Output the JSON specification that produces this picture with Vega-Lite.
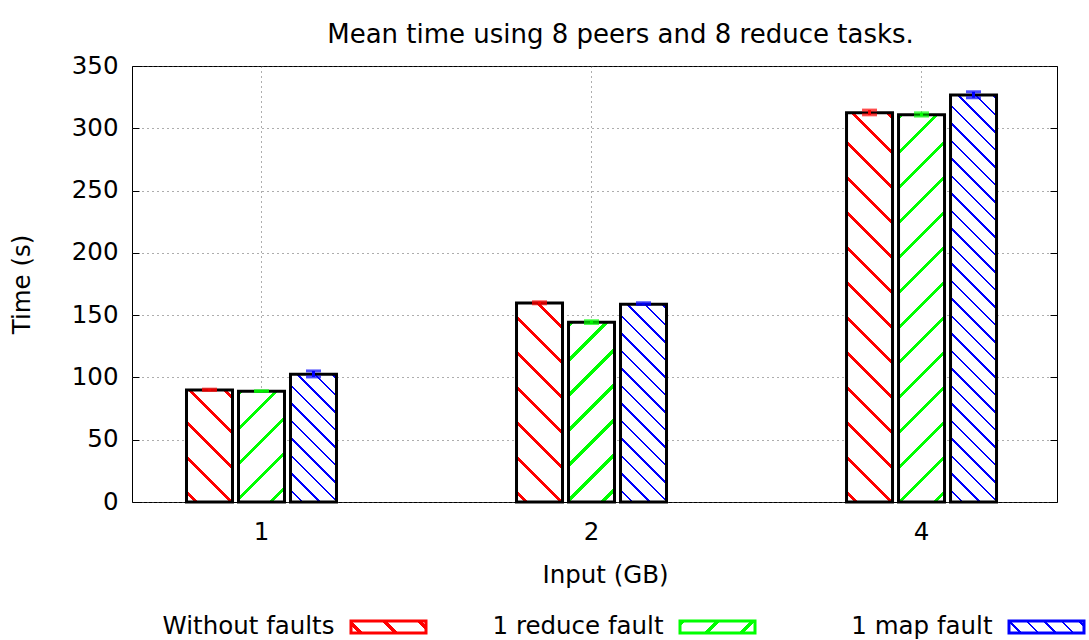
{
"$schema": "https://vega.github.io/schema/vega-lite/v6.json",
"width": 925,
"height": 436,
"autosize": {"type": "none"},
"padding": {"left": 132, "top": 66, "right": 32, "bottom": 138},
"background": "white",
"title": {"text": "Mean time using 8 peers and 8 reduce tasks.", "font": "DejaVu Sans", "fontSize": 26, "fontWeight": "normal", "color": "black", "anchor": "middle", "dx": 26, "offset": 5},
"params": [
 {"name": "redStops", "expr": "[{offset:0.0155,color:'white'},{offset:0.0155,color:'red'},{offset:0.0245,color:'red'},{offset:0.0245,color:'white'},{offset:0.0855,color:'white'},{offset:0.0855,color:'red'},{offset:0.0945,color:'red'},{offset:0.0945,color:'white'},{offset:0.1555,color:'white'},{offset:0.1555,color:'red'},{offset:0.1645,color:'red'},{offset:0.1645,color:'white'},{offset:0.2255,color:'white'},{offset:0.2255,color:'red'},{offset:0.2345,color:'red'},{offset:0.2345,color:'white'},{offset:0.2955,color:'white'},{offset:0.2955,color:'red'},{offset:0.3045,color:'red'},{offset:0.3045,color:'white'},{offset:0.3655,color:'white'},{offset:0.3655,color:'red'},{offset:0.3745,color:'red'},{offset:0.3745,color:'white'},{offset:0.4355,color:'white'},{offset:0.4355,color:'red'},{offset:0.4445,color:'red'},{offset:0.4445,color:'white'},{offset:0.5055,color:'white'},{offset:0.5055,color:'red'},{offset:0.5145,color:'red'},{offset:0.5145,color:'white'},{offset:0.5755,color:'white'},{offset:0.5755,color:'red'},{offset:0.5845,color:'red'},{offset:0.5845,color:'white'},{offset:0.6455,color:'white'},{offset:0.6455,color:'red'},{offset:0.6545,color:'red'},{offset:0.6545,color:'white'},{offset:0.7155,color:'white'},{offset:0.7155,color:'red'},{offset:0.7245,color:'red'},{offset:0.7245,color:'white'},{offset:0.7855,color:'white'},{offset:0.7855,color:'red'},{offset:0.7945,color:'red'},{offset:0.7945,color:'white'},{offset:0.8555,color:'white'},{offset:0.8555,color:'red'},{offset:0.8645,color:'red'},{offset:0.8645,color:'white'}]"},
 {"name": "greenStops", "expr": "[{offset:0.0015,color:'white'},{offset:0.0015,color:'lime'},{offset:0.0105,color:'lime'},{offset:0.0105,color:'white'},{offset:0.0715,color:'white'},{offset:0.0715,color:'lime'},{offset:0.0805,color:'lime'},{offset:0.0805,color:'white'},{offset:0.1415,color:'white'},{offset:0.1415,color:'lime'},{offset:0.1505,color:'lime'},{offset:0.1505,color:'white'},{offset:0.2115,color:'white'},{offset:0.2115,color:'lime'},{offset:0.2205,color:'lime'},{offset:0.2205,color:'white'},{offset:0.2815,color:'white'},{offset:0.2815,color:'lime'},{offset:0.2905,color:'lime'},{offset:0.2905,color:'white'},{offset:0.3515,color:'white'},{offset:0.3515,color:'lime'},{offset:0.3605,color:'lime'},{offset:0.3605,color:'white'},{offset:0.4215,color:'white'},{offset:0.4215,color:'lime'},{offset:0.4305,color:'lime'},{offset:0.4305,color:'white'},{offset:0.4915,color:'white'},{offset:0.4915,color:'lime'},{offset:0.5005,color:'lime'},{offset:0.5005,color:'white'},{offset:0.5615,color:'white'},{offset:0.5615,color:'lime'},{offset:0.5705,color:'lime'},{offset:0.5705,color:'white'},{offset:0.6315,color:'white'},{offset:0.6315,color:'lime'},{offset:0.6405,color:'lime'},{offset:0.6405,color:'white'},{offset:0.7015,color:'white'},{offset:0.7015,color:'lime'},{offset:0.7105,color:'lime'},{offset:0.7105,color:'white'},{offset:0.7715,color:'white'},{offset:0.7715,color:'lime'},{offset:0.7805,color:'lime'},{offset:0.7805,color:'white'},{offset:0.8415,color:'white'},{offset:0.8415,color:'lime'},{offset:0.8505,color:'lime'},{offset:0.8505,color:'white'}]"},
 {"name": "blueStops", "expr": "[{offset:0.0216,color:'white'},{offset:0.0216,color:'blue'},{offset:0.0264,color:'blue'},{offset:0.0264,color:'white'},{offset:0.0566,color:'white'},{offset:0.0566,color:'blue'},{offset:0.0614,color:'blue'},{offset:0.0614,color:'white'},{offset:0.0916,color:'white'},{offset:0.0916,color:'blue'},{offset:0.0964,color:'blue'},{offset:0.0964,color:'white'},{offset:0.1266,color:'white'},{offset:0.1266,color:'blue'},{offset:0.1314,color:'blue'},{offset:0.1314,color:'white'},{offset:0.1616,color:'white'},{offset:0.1616,color:'blue'},{offset:0.1664,color:'blue'},{offset:0.1664,color:'white'},{offset:0.1966,color:'white'},{offset:0.1966,color:'blue'},{offset:0.2014,color:'blue'},{offset:0.2014,color:'white'},{offset:0.2316,color:'white'},{offset:0.2316,color:'blue'},{offset:0.2364,color:'blue'},{offset:0.2364,color:'white'},{offset:0.2666,color:'white'},{offset:0.2666,color:'blue'},{offset:0.2714,color:'blue'},{offset:0.2714,color:'white'},{offset:0.3016,color:'white'},{offset:0.3016,color:'blue'},{offset:0.3064,color:'blue'},{offset:0.3064,color:'white'},{offset:0.3366,color:'white'},{offset:0.3366,color:'blue'},{offset:0.3414,color:'blue'},{offset:0.3414,color:'white'},{offset:0.3716,color:'white'},{offset:0.3716,color:'blue'},{offset:0.3764,color:'blue'},{offset:0.3764,color:'white'},{offset:0.4066,color:'white'},{offset:0.4066,color:'blue'},{offset:0.4114,color:'blue'},{offset:0.4114,color:'white'},{offset:0.4416,color:'white'},{offset:0.4416,color:'blue'},{offset:0.4464,color:'blue'},{offset:0.4464,color:'white'},{offset:0.4766,color:'white'},{offset:0.4766,color:'blue'},{offset:0.4814,color:'blue'},{offset:0.4814,color:'white'},{offset:0.5116,color:'white'},{offset:0.5116,color:'blue'},{offset:0.5164,color:'blue'},{offset:0.5164,color:'white'},{offset:0.5466,color:'white'},{offset:0.5466,color:'blue'},{offset:0.5514,color:'blue'},{offset:0.5514,color:'white'},{offset:0.5816,color:'white'},{offset:0.5816,color:'blue'},{offset:0.5864,color:'blue'},{offset:0.5864,color:'white'},{offset:0.6166,color:'white'},{offset:0.6166,color:'blue'},{offset:0.6214,color:'blue'},{offset:0.6214,color:'white'},{offset:0.6516,color:'white'},{offset:0.6516,color:'blue'},{offset:0.6564,color:'blue'},{offset:0.6564,color:'white'},{offset:0.6866,color:'white'},{offset:0.6866,color:'blue'},{offset:0.6914,color:'blue'},{offset:0.6914,color:'white'},{offset:0.7216,color:'white'},{offset:0.7216,color:'blue'},{offset:0.7264,color:'blue'},{offset:0.7264,color:'white'},{offset:0.7566,color:'white'},{offset:0.7566,color:'blue'},{offset:0.7614,color:'blue'},{offset:0.7614,color:'white'},{offset:0.7916,color:'white'},{offset:0.7916,color:'blue'},{offset:0.7964,color:'blue'},{offset:0.7964,color:'white'},{offset:0.8266,color:'white'},{offset:0.8266,color:'blue'},{offset:0.8314,color:'blue'},{offset:0.8314,color:'white'},{offset:0.8616,color:'white'},{offset:0.8616,color:'blue'},{offset:0.8664,color:'blue'},{offset:0.8664,color:'white'},{offset:0.8966,color:'white'},{offset:0.8966,color:'blue'},{offset:0.9014,color:'blue'},{offset:0.9014,color:'white'}]"}
],
"data": {"values": [
 {"input": "1", "series": "Without faults", "time": 90, "lo": 89.5, "hi": 90.6},
 {"input": "1", "series": "1 reduce fault", "time": 89, "lo": 88.7, "hi": 89.3},
 {"input": "1", "series": "1 map fault", "time": 102.6, "lo": 100.4, "hi": 105.2},
 {"input": "2", "series": "Without faults", "time": 159.8, "lo": 159.1, "hi": 160.7},
 {"input": "2", "series": "1 reduce fault", "time": 144.3, "lo": 143.3, "hi": 145.5},
 {"input": "2", "series": "1 map fault", "time": 158.8, "lo": 158.5, "hi": 159.9},
 {"input": "4", "series": "Without faults", "time": 312.4, "lo": 310.8, "hi": 314.6},
 {"input": "4", "series": "1 reduce fault", "time": 310.8, "lo": 309.8, "hi": 312.4},
 {"input": "4", "series": "1 map fault", "time": 326.8, "lo": 324.5, "hi": 329.3}
]},
"config": {
 "font": "DejaVu Sans",
 "view": {"stroke": "black", "strokeWidth": 1},
 "axis": {"labelFont": "DejaVu Sans", "labelFontSize": 24.5, "labelColor": "black", "titleFont": "DejaVu Sans", "titleFontSize": 24.5, "titleFontWeight": "normal", "titleColor": "black", "domain": false, "gridColor": "#5a5a5a", "gridDash": [1, 4], "gridOpacity": 1, "gridWidth": 1, "tickColor": "black", "tickWidth": 1}
},
"layer": [
 {
  "mark": {"type": "bar", "stroke": "black", "strokeWidth": 3,
   "fill": {"expr": "datum.series=='1 reduce fault' ? {gradient:'linear',x1:0,y1:0,x2:500*bandwidth('xOffset')/(bandwidth('xOffset')*bandwidth('xOffset')+(scale('y',0)-scale('y',datum.time))*(scale('y',0)-scale('y',datum.time))),y2:500*(scale('y',0)-scale('y',datum.time))/(bandwidth('xOffset')*bandwidth('xOffset')+(scale('y',0)-scale('y',datum.time))*(scale('y',0)-scale('y',datum.time))),stops:greenStops} : {gradient:'linear',x1:0,y1:1,x2:500*bandwidth('xOffset')/(bandwidth('xOffset')*bandwidth('xOffset')+(scale('y',0)-scale('y',datum.time))*(scale('y',0)-scale('y',datum.time))),y2:1-500*(scale('y',0)-scale('y',datum.time))/(bandwidth('xOffset')*bandwidth('xOffset')+(scale('y',0)-scale('y',datum.time))*(scale('y',0)-scale('y',datum.time))),stops:(datum.series=='Without faults' ? redStops : blueStops)}"}},
  "encoding": {
   "x": {"field": "input", "type": "nominal", "sort": ["1", "2", "4"], "scale": {"paddingInner": 0.5455, "paddingOuter": 0.1742, "align": 0.474}, "axis": {"title": "Input (GB)", "labelAngle": 0, "ticks": false, "grid": true, "bandPosition": 0.5, "labelPadding": 18, "titlePadding": 20, "titleX": 473}},
   "xOffset": {"field": "series", "type": "nominal", "sort": ["Without faults", "1 reduce fault", "1 map fault"], "scale": {"paddingInner": 0.1154, "paddingOuter": 0}},
   "y": {"field": "time", "type": "quantitative", "scale": {"domain": [0, 350], "nice": false}, "axis": {"title": "Time (s)", "values": [0, 50, 100, 150, 200, 250, 300, 350], "tickSize": -7, "labelPadding": 21, "grid": true, "titlePadding": 37}}
  }
 },
 {
  "transform": [{"filter": "false"}],
  "mark": {"type": "bar", "stroke": "black", "strokeWidth": 3},
  "encoding": {
   "x": {"field": "input", "type": "nominal", "sort": ["1", "2", "4"]},
   "xOffset": {"field": "series", "type": "nominal", "sort": ["Without faults", "1 reduce fault", "1 map fault"]},
   "y": {"field": "time", "type": "quantitative", "axis": null},
   "fill": {"field": "series", "type": "nominal", "sort": ["Without faults", "1 reduce fault", "1 map fault"],
    "scale": {"domain": ["Without faults", "1 reduce fault", "1 map fault"], "range": [
     {"expr": "{gradient:'linear',x1:0,y1:1,x2:6.5,y2:-0.04,stops:redStops}"},
     {"expr": "{gradient:'linear',x1:0,y1:0,x2:6.5,y2:1.04,stops:greenStops}"},
     {"expr": "{gradient:'linear',x1:0,y1:1,x2:6.5,y2:-0.04,stops:blueStops}"}
    ]},
    "legend": {"title": null, "orient": "none", "legendX": 217.5, "legendY": 522, "direction": "horizontal", "columns": 3, "gridAlign": "all",
     "symbolType": "M-1,-0.16H1V0.16H-1Z", "symbolSize": 5625, "symbolStrokeWidth": 3, "symbolStrokeColor": "black", "symbolOpacity": 1,
     "labelFont": "DejaVu Sans", "labelFontSize": 24.5, "labelColor": "black", "labelAlign": "right", "labelOffset": -93, "labelLimit": 400, "columnPadding": 60}
   }
  }
 },
 {
  "mark": {"type": "rule", "strokeWidth": 3},
  "encoding": {
   "x": {"field": "input", "type": "nominal", "sort": ["1", "2", "4"]},
   "xOffset": {"field": "series", "type": "nominal", "sort": ["Without faults", "1 reduce fault", "1 map fault"]},
   "y": {"field": "lo", "type": "quantitative", "axis": {"orient": "right", "labels": false, "title": null, "grid": false, "tickSize": -7, "values": [0, 50, 100, 150, 200, 250, 300, 350]}},
   "y2": {"field": "hi"},
   "color": {"field": "series", "type": "nominal", "sort": ["Without faults", "1 reduce fault", "1 map fault"],
    "scale": {"domain": ["Without faults", "1 reduce fault", "1 map fault"], "range": ["red", "lime", "blue"]}, "legend": null}
  }
 },
 {
  "mark": {"type": "tick", "thickness": 3, "size": 15},
  "encoding": {
   "x": {"field": "input", "type": "nominal", "sort": ["1", "2", "4"]},
   "xOffset": {"field": "series", "type": "nominal", "sort": ["Without faults", "1 reduce fault", "1 map fault"]},
   "y": {"field": "lo", "type": "quantitative", "axis": null},
   "color": {"field": "series", "type": "nominal", "sort": ["Without faults", "1 reduce fault", "1 map fault"], "legend": null}
  }
 },
 {
  "mark": {"type": "tick", "thickness": 3, "size": 15},
  "encoding": {
   "x": {"field": "input", "type": "nominal", "sort": ["1", "2", "4"]},
   "xOffset": {"field": "series", "type": "nominal", "sort": ["Without faults", "1 reduce fault", "1 map fault"]},
   "y": {"field": "hi", "type": "quantitative", "axis": null},
   "color": {"field": "series", "type": "nominal", "sort": ["Without faults", "1 reduce fault", "1 map fault"], "legend": null}
  }
 }
],
"resolve": {"axis": {"y": "independent"}}
}
